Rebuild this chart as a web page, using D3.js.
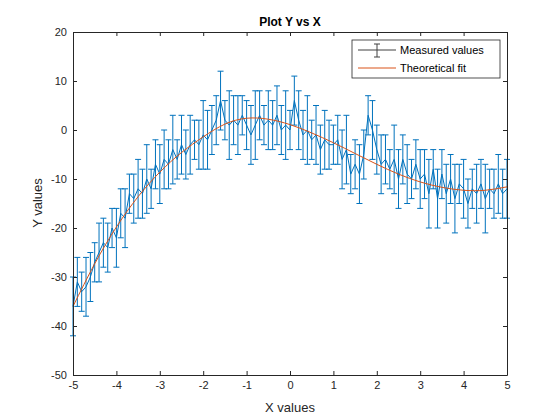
<!DOCTYPE html>
<html><head><meta charset="utf-8">
<script src="https://cdn.jsdelivr.net/npm/d3@7"></script>
<style>body{margin:0;background:#fff}text{font-family:"Liberation Sans",Arial,sans-serif}</style>
</head><body><svg id="c" width="560" height="420"></svg>
<script>
const xStart = -5, xStep = 0.1;
const measured = [-36,-31,-33,-32,-30,-27,-25,-23,-24,-20,-22,
-17,-18,-13,-14,-12,-13,-10,-12,-7,-9,
-6,-7,-4,-6,-3,-5,-3,-2,-3,-1,
-2,0,2,6,2,1,2,1,3,1,
-1,1,3,1,2,1,3,0,1,0,
6,2,-1,0,-2,-1,-4,-2,-3,-3,
-2,-6,-4,-9,-7,-9,-5,3,0,-4,
-7,-6,-8,-6,-10,-6,-9,-10,-7,-10,
-9,-13,-8,-14,-9,-13,-10,-14,-11,-12,
-15,-12,-13,-11,-14,-12,-13,-11,-13,-12];
const errors = [6,5,4,6,5,4,6,5,5,4,6,
5,6,4,5,6,5,7,4,5,6,
6,5,7,4,6,5,6,4,5,7,
6,5,5,6,4,7,5,6,4,5,
6,7,5,4,6,5,6,5,7,4,
5,6,5,7,4,6,5,6,5,4,
5,6,7,4,5,6,5,4,6,5,
6,5,4,7,6,5,6,4,5,6,
5,7,4,6,5,6,5,7,4,6,
5,4,6,5,7,4,5,6,5,6];
const fitX = [-5,-4.5,-4,-3.5,-3,-2.5,-2,-1.5,-1,-0.5,0,0.5,1,1.5,2,2.5,3,3.5,4,4.5,5];
const fitY = [-36,-27.3,-19.8,-13.6,-8.6,-4.6,-1.4,1.2,2.4,2.2,1.1,-0.6,-2.6,-4.8,-7,-9,-10.6,-11.7,-12.3,-12.3,-11.6];
const xTicks = [-5,-4,-3,-2,-1,0,1,2,3,4,5];
const yTicks = [-50,-40,-30,-20,-10,0,10,20];

const svg = d3.select("#c");
const L=73,R=507,T=32,B=375;
const x = d3.scaleLinear().domain([-5,5]).range([L,R]);
const y = d3.scaleLinear().domain([-50,20]).range([B,T]);
const blue="#0072BD", red="#D95319";
const g = svg.append("g");
// error bars
measured.forEach((v,i)=>{
  const xv = xStart+i*xStep, e=errors[i];
  const px=x(xv);
  g.append("line").attr("x1",px).attr("x2",px).attr("y1",y(v-e)).attr("y2",y(v+e)).attr("stroke",blue).attr("stroke-width",1);
  [v-e,v+e].forEach(c=>g.append("line").attr("x1",px-3).attr("x2",px+3).attr("y1",y(c)).attr("y2",y(c)).attr("stroke",blue));
});
g.append("path").datum(measured).attr("fill","none").attr("stroke",blue).attr("stroke-width",1)
 .attr("d",d3.line().x((d,i)=>x(xStart+i*xStep)).y(d=>y(d)));
g.append("path").datum(fitX.map((d,i)=>[d,fitY[i]])).attr("fill","none").attr("stroke",red).attr("stroke-width",1)
 .attr("d",d3.line().curve(d3.curveNatural).x(d=>x(d[0])).y(d=>y(d[1])));
// axes
const ax = (a)=>a.call(s=>{s.select(".domain").attr("stroke","#262626");s.selectAll("line").attr("stroke","#262626");s.selectAll("text").attr("fill","#262626").style("font-size","11px");});
svg.append("g").attr("transform",`translate(0,${B})`).call(d3.axisBottom(x).tickValues(xTicks).tickSize(-4).tickSizeOuter(0).tickPadding(6)).call(ax);
svg.append("g").attr("transform",`translate(0,${T})`).call(d3.axisTop(x).tickValues(xTicks).tickSize(-4).tickSizeOuter(0).tickFormat("")).call(ax);
svg.append("g").attr("transform",`translate(${L},0)`).call(d3.axisLeft(y).tickValues(yTicks).tickSize(-4).tickSizeOuter(0).tickPadding(6)).call(ax);
svg.append("g").attr("transform",`translate(${R},0)`).call(d3.axisRight(y).tickValues(yTicks).tickSize(-4).tickSizeOuter(0).tickFormat("")).call(ax);
svg.selectAll("text").filter(function(){return this.textContent.startsWith("−")}).text(function(){return this.textContent.replace("−","-")});
svg.append("text").attr("x",290).attr("y",26).attr("text-anchor","middle").style("font-size","12px").style("font-weight","bold").attr("fill","#000").text("Plot Y vs X");
svg.append("text").attr("x",290).attr("y",412).attr("text-anchor","middle").style("font-size","13px").attr("fill","#262626").text("X values");
svg.append("text").attr("transform","translate(42,203) rotate(-90)").attr("text-anchor","middle").style("font-size","13px").attr("fill","#262626").text("Y values");
// legend
const lg = svg.append("g");
lg.append("rect").attr("x",352).attr("y",40).attr("width",148).attr("height",38).attr("fill","#fff").attr("stroke","#262626").attr("stroke-width",0.8);
lg.append("line").attr("x1",358).attr("x2",396).attr("y1",50).attr("y2",50).attr("stroke","#404040");
lg.append("line").attr("x1",377).attr("x2",377).attr("y1",44).attr("y2",57).attr("stroke","#404040");
[44,57].forEach(c=>lg.append("line").attr("x1",374).attr("x2",380).attr("y1",c).attr("y2",c).attr("stroke","#404040"));
lg.append("line").attr("x1",358).attr("x2",396).attr("y1",68).attr("y2",68).attr("stroke",red);
lg.append("text").attr("x",400).attr("y",54).style("font-size","11px").attr("fill","#000").text("Measured values");
lg.append("text").attr("x",400).attr("y",72).style("font-size","11px").attr("fill","#000").text("Theoretical fit");
</script></body></html>
